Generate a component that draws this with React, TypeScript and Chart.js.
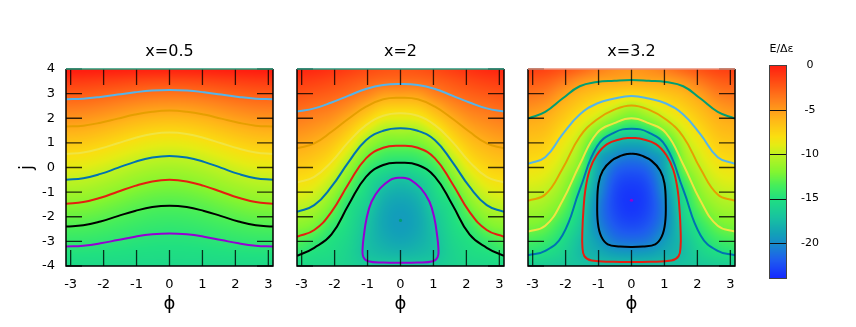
import React, { useEffect, useRef } from 'react';
import { Chart, registerables } from 'chart.js';

Chart.register(...registerables);

const FONT = "'DejaVu Sans', 'Liberation Sans', sans-serif";

// ---------- data ----------
const PHI_GRID = [-3.1416, -2.618, -2.0944, -1.5708, -1.0472, -0.5236, 0, 0.5236, 1.0472, 1.5708, 2.0944, 2.618, 3.1416];
const J_GRID = [4, 3.5, 3, 2.5, 2, 1.5, 1, 0.5, 0, -0.5, -1, -1.5, -2, -2.5, -3, -3.5, -4];
const PHI_TICKS = [-3, -2, -1, 0, 1, 2, 3];
const J_TICKS = [-4, -3, -2, -1, 0, 1, 2, 3, 4];
const CB_TICKS = [0, -5, -10, -15, -20];
const CB_MIN = -24;
const CB_MAX = 0;
const TITLES = ['x=0.5', 'x=2', 'x=3.2'];
const CB_LABEL = 'E/\u0394\u03b5';

// E/Δε on the (φ, j) grid, rows j = 4 … -4, columns φ = -π … π
const E_X05 = [
  [0.15, 0.13, 0.08, 0, -0.08, -0.13, -0.15, -0.13, -0.08, 0, 0.08, 0.13, 0.15],
  [-1.13, -1.18, -1.31, -1.48, -1.66, -1.78, -1.83, -1.78, -1.66, -1.48, -1.31, -1.18, -1.13],
  [-2.37, -2.44, -2.63, -2.89, -3.15, -3.34, -3.41, -3.34, -3.15, -2.89, -2.63, -2.44, -2.37],
  [-3.55, -3.64, -3.89, -4.23, -4.57, -4.82, -4.91, -4.82, -4.57, -4.23, -3.89, -3.64, -3.55],
  [-4.69, -4.8, -5.1, -5.5, -5.91, -6.2, -6.31, -6.2, -5.91, -5.5, -5.1, -4.8, -4.69],
  [-5.81, -5.93, -6.26, -6.71, -7.16, -7.49, -7.61, -7.49, -7.16, -6.71, -6.26, -5.93, -5.81],
  [-6.89, -7.02, -7.37, -7.85, -8.33, -8.68, -8.81, -8.68, -8.33, -7.85, -7.37, -7.02, -6.89],
  [-7.96, -8.09, -8.44, -8.92, -9.4, -9.75, -9.88, -9.75, -9.4, -8.92, -8.44, -8.09, -7.96],
  [-8.98, -9.11, -9.45, -9.92, -10.39, -10.73, -10.86, -10.73, -10.39, -9.92, -9.45, -9.11, -8.98],
  [-9.97, -10.09, -10.42, -10.86, -11.31, -11.63, -11.75, -11.63, -11.31, -10.86, -10.42, -10.09, -9.97],
  [-10.92, -11.03, -11.33, -11.73, -12.14, -12.43, -12.54, -12.43, -12.14, -11.73, -11.33, -11.03, -10.92],
  [-11.82, -11.92, -12.18, -12.53, -12.89, -13.14, -13.24, -13.14, -12.89, -12.53, -12.18, -11.92, -11.82],
  [-12.66, -12.74, -12.96, -13.26, -13.56, -13.78, -13.86, -13.78, -13.56, -13.26, -12.96, -12.74, -12.66],
  [-13.48, -13.54, -13.71, -13.93, -14.16, -14.32, -14.38, -14.32, -14.16, -13.93, -13.71, -13.54, -13.48],
  [-14.23, -14.27, -14.38, -14.53, -14.68, -14.79, -14.83, -14.79, -14.68, -14.53, -14.38, -14.27, -14.23],
  [-14.91, -14.93, -14.99, -15.06, -15.14, -15.19, -15.21, -15.19, -15.14, -15.06, -14.99, -14.93, -14.91],
  [-15.47, -15.48, -15.5, -15.52, -15.55, -15.56, -15.57, -15.56, -15.55, -15.52, -15.5, -15.48, -15.47],
];

const E_X2 = [
  [-0.3, -0.43, -0.78, -1.25, -1.73, -2.07, -2.2, -2.07, -1.73, -1.25, -0.78, -0.43, -0.3],
  [-1.16, -1.36, -1.71, -2.2, -2.7, -3.1, -3.15, -3.1, -2.7, -2.2, -1.71, -1.36, -1.16],
  [-2.02, -2.29, -2.63, -3.15, -3.96, -4.97, -5.08, -4.97, -3.96, -3.15, -2.63, -2.29, -2.02],
  [-2.89, -3.23, -3.59, -4.43, -5.7, -6.89, -7.1, -6.89, -5.7, -4.43, -3.59, -3.23, -2.89],
  [-3.73, -4.1, -4.64, -5.78, -7.3, -8.76, -9.01, -8.76, -7.3, -5.78, -4.64, -4.1, -3.73],
  [-4.57, -4.97, -5.69, -7.05, -9.07, -10.72, -10.83, -10.72, -9.07, -7.05, -5.69, -4.97, -4.57],
  [-5.4, -5.85, -6.69, -8.35, -10.93, -12.25, -12.47, -12.25, -10.93, -8.35, -6.69, -5.85, -5.4],
  [-6.25, -6.7, -7.67, -9.81, -12.42, -13.69, -13.94, -13.69, -12.42, -9.81, -7.67, -6.7, -6.25],
  [-7.11, -7.54, -8.75, -11.18, -13.79, -15.07, -15.48, -15.07, -13.79, -11.18, -8.75, -7.54, -7.11],
  [-7.98, -8.43, -9.93, -12.43, -14.95, -16.44, -17.11, -16.44, -14.95, -12.43, -9.93, -8.43, -7.98],
  [-8.95, -9.46, -11.07, -13.62, -15.56, -17.55, -18.18, -17.55, -15.56, -13.62, -11.07, -9.46, -8.95],
  [-9.95, -10.5, -12.15, -14.8, -16.17, -18.24, -18.87, -18.24, -16.17, -14.8, -12.15, -10.5, -9.95],
  [-10.99, -11.57, -13.23, -15.15, -16.78, -18.57, -19.18, -18.57, -16.78, -15.15, -13.23, -11.57, -10.99],
  [-12.07, -12.65, -14.32, -15.5, -17.05, -18.55, -19.11, -18.55, -17.05, -15.5, -14.32, -12.65, -12.07],
  [-13.21, -14.08, -15.0, -15.8, -17.2, -18.21, -18.65, -18.21, -17.2, -15.8, -15.0, -14.08, -13.21],
  [-14.49, -15.04, -15.35, -16.0, -17.05, -17.58, -17.8, -17.58, -17.05, -16.0, -15.35, -15.04, -14.49],
  [-15.5, -15.55, -15.7, -16.0, -16.5, -16.65, -16.6, -16.65, -16.5, -16.0, -15.7, -15.55, -15.5],
];

const E_X32 = [
  [-1.3, -1.5, -2.1, -2.9, -3.8, -4.5, -4.8, -4.5, -3.8, -2.9, -2.1, -1.5, -1.3],
  [-2.34, -2.65, -3.57, -4.7, -5.37, -5.54, -5.69, -5.54, -5.37, -4.7, -3.57, -2.65, -2.34],
  [-3.39, -3.8, -5.03, -6.1, -6.79, -7.3, -7.62, -7.3, -6.79, -6.1, -5.03, -3.8, -3.39],
  [-4.43, -4.95, -6.08, -7.18, -8.21, -9.35, -10.43, -9.35, -8.21, -7.18, -6.08, -4.95, -4.43],
  [-5.48, -5.85, -6.93, -8.27, -9.75, -11.51, -12.66, -11.51, -9.75, -8.27, -6.93, -5.85, -5.48],
  [-6.17, -6.53, -7.78, -9.4, -12.05, -14.52, -15.55, -14.52, -12.05, -9.4, -7.78, -6.53, -6.17],
  [-6.84, -7.21, -8.55, -10.5, -14.73, -17.8, -18.44, -17.8, -14.73, -10.5, -8.55, -7.21, -6.84],
  [-7.52, -7.89, -9.28, -11.5, -17.75, -19.8, -20.5, -19.8, -17.75, -11.5, -9.28, -7.89, -7.52],
  [-8.23, -8.64, -10.02, -12.5, -18.24, -21.21, -21.9, -21.21, -18.24, -12.5, -10.02, -8.64, -8.23],
  [-9.0, -9.39, -10.82, -13.92, -18.85, -22.09, -22.87, -22.09, -18.85, -13.92, -10.82, -9.39, -9.0],
  [-9.76, -10.15, -11.67, -15.14, -19.45, -22.58, -23.39, -22.58, -19.45, -15.14, -11.67, -10.15, -9.76],
  [-10.58, -11.02, -12.52, -15.68, -20.06, -22.69, -23.48, -22.69, -20.06, -15.68, -12.52, -11.02, -10.58],
  [-11.5, -11.93, -13.53, -16.21, -20.2, -22.42, -23.13, -22.42, -20.2, -16.21, -13.53, -11.93, -11.5],
  [-12.42, -12.91, -14.57, -16.75, -19.8, -21.76, -22.33, -21.76, -19.8, -16.75, -14.57, -12.91, -12.42],
  [-13.6, -14.08, -15.38, -17.29, -19.0, -20.72, -21.09, -20.72, -19.0, -17.29, -15.38, -14.08, -13.6],
  [-14.85, -15.25, -16.04, -17.4, -18.2, -18.97, -19.19, -18.97, -18.2, -17.4, -16.04, -15.25, -14.85],
  [-16.3, -16.4, -16.7, -17.0, -17.2, -17.3, -17.3, -17.3, -17.2, -17.0, -16.7, -16.4, -16.3],
];

// contour lines: j at the φ positions of PHI_GRID
const X05_SKY = [2.77, 2.795, 2.865, 2.96, 3.055, 3.125, 3.15, 3.125, 3.055, 2.96, 2.865, 2.795, 2.77];
const X05_ORANGE = [1.66, 1.7, 1.82, 1.985, 2.15, 2.265, 2.31, 2.265, 2.15, 1.985, 1.82, 1.7, 1.66];
const X05_YELLOW = [0.55, 0.61, 0.77, 0.985, 1.2, 1.36, 1.42, 1.36, 1.2, 0.985, 0.77, 0.61, 0.55];
const X05_BLUE = [-0.5, -0.435, -0.26, -0.015, 0.23, 0.405, 0.47, 0.405, 0.23, -0.015, -0.26, -0.435, -0.5];
const X05_RED = [-1.47, -1.405, -1.23, -0.985, -0.745, -0.565, -0.5, -0.565, -0.745, -0.985, -1.23, -1.405, -1.47];
const X05_BLACK = [-2.4, -2.345, -2.19, -1.975, -1.765, -1.605, -1.55, -1.605, -1.765, -1.975, -2.19, -2.345, -2.4];
const X05_VIOLET = [-3.21, -3.175, -3.08, -2.945, -2.81, -2.715, -2.68, -2.715, -2.81, -2.945, -3.08, -3.175, -3.21];

const X2_SKY = [2.27, 2.4, 2.64, 2.92, 3.19, 3.35, 3.39, 3.35, 3.19, 2.92, 2.64, 2.4, 2.27];
const X2_ORANGE = [0.78, 0.98, 1.45, 1.99, 2.47, 2.77, 2.83, 2.77, 2.47, 1.99, 1.45, 0.98, 0.78];
const X2_YELLOW = [-0.61, -0.38, 0.23, 1.05, 1.72, 2.1, 2.2, 2.1, 1.72, 1.05, 0.23, -0.38, -0.61];
const X2_BLUE = [-1.8, -1.53, -0.78, 0.23, 1.11, 1.49, 1.59, 1.49, 1.11, 0.23, -0.78, -1.53, -1.8];
const X2_RED = [-2.81, -2.54, -1.8, -0.65, 0.37, 0.8, 0.88, 0.8, 0.37, -0.65, -1.8, -2.54, -2.81];
const X2_BLACK = [-3.59, -3.26, -2.72, -1.5, -0.38, 0.1, 0.19, 0.1, -0.38, -1.5, -2.72, -3.26, -3.59];
const X2_VIOLET_PHI = [0, 0.14, 0.32, 0.62, 0.88, 1.03, 1.11, 1.15, 1.13, 0.98, 0.52, 0, -0.52, -0.98, -1.13, -1.15, -1.11, -1.03, -0.88, -0.62, -0.32, -0.14, 0];
const X2_VIOLET_J = [-0.42, -0.43, -0.51, -0.85, -1.39, -2.07, -2.75, -3.29, -3.63, -3.81, -3.86, -3.87, -3.86, -3.81, -3.63, -3.29, -2.75, -2.07, -1.39, -0.85, -0.51, -0.43, -0.42];
const X2_MIN_PHI = [0];
const X2_MIN_J = [-2.15];

const X32_GREEN = [1.99, 2.26, 2.8, 3.3, 3.47, 3.52, 3.55, 3.52, 3.47, 3.3, 2.8, 2.26, 1.99];
const X32_SKY = [0.15, 0.42, 1.35, 2.15, 2.6, 2.8, 2.9, 2.8, 2.6, 2.15, 1.35, 0.42, 0.15];
const X32_ORANGE = [-1.35, -1.1, -0.05, 1.25, 1.95, 2.35, 2.52, 2.35, 1.95, 1.25, -0.05, -1.1, -1.35];
const X32_YELLOW = [-2.6, -2.37, -1.35, 0.12, 1.4, 1.8, 2.0, 1.8, 1.4, 0.12, -1.35, -2.37, -2.6];
const X32_BLUE = [-3.56, -3.39, -2.75, -0.9, 0.85, 1.42, 1.57, 1.42, 0.85, -0.9, -2.75, -3.39, -3.56];
const X32_RED_PHI = [0, 0.12, 0.31, 0.74, 1.06, 1.27, 1.4, 1.46, 1.49, 1.49, 1.43, 1.21, 0.55, 0, -0.55, -1.21, -1.43, -1.49, -1.49, -1.46, -1.4, -1.27, -1.06, -0.74, -0.31, -0.12, 0];
const X32_RED_J = [1.2, 1.195, 1.16, 0.95, 0.5, -0.1, -0.9, -1.75, -2.55, -3.2, -3.6, -3.78, -3.83, -3.84, -3.83, -3.78, -3.6, -3.2, -2.55, -1.75, -0.9, -0.1, 0.5, 0.95, 1.16, 1.195, 1.2];
const X32_BLACK_PHI = [0, 0.12, 0.31, 0.61, 0.87, 1.0, 1.04, 1.02, 0.92, 0.72, 0.35, 0, -0.35, -0.72, -0.92, -1.02, -1.04, -1.0, -0.87, -0.61, -0.31, -0.12, 0];
const X32_BLACK_J = [0.56, 0.55, 0.48, 0.27, -0.12, -0.64, -1.45, -2.26, -2.8, -3.12, -3.21, -3.23, -3.21, -3.12, -2.8, -2.26, -1.45, -0.64, -0.12, 0.27, 0.48, 0.55, 0.56];
const X32_MIN_PHI = [0];
const X32_MIN_J = [-1.33];

// ---------- styles ----------
const LT = {
  violet: '#9400d3', green: '#009e73', sky: '#56b4e9', orange: '#e69f00',
  yellow: '#f0e442', blue: '#0072b2', red: '#e51e10', black: '#000000',
};
const PAL_V = [0, -2, -4, -6, -8, -9, -10, -12, -13.5, -15, -17, -19, -20.5, -22, -24];
const PAL_C = [
  [255, 30, 16], [255, 80, 20], [255, 130, 28], [255, 180, 24], [250, 222, 16], [228, 236, 20],
  [192, 242, 32], [130, 245, 48], [70, 238, 90], [32, 224, 128], [24, 196, 158], [18, 160, 184],
  [24, 130, 210], [30, 90, 240], [20, 40, 255],
];
const TICK_LEN = 16;

function palette(v: number): number[] {
  if (v >= PAL_V[0]) return PAL_C[0];
  for (let i = 1; i < PAL_V.length; i++) {
    if (v >= PAL_V[i]) {
      const t = (PAL_V[i - 1] - v) / (PAL_V[i - 1] - PAL_V[i]);
      const a = PAL_C[i - 1], b = PAL_C[i];
      return [a[0] + (b[0] - a[0]) * t, a[1] + (b[1] - a[1]) * t, a[2] + (b[2] - a[2]) * t];
    }
  }
  return PAL_C[PAL_C.length - 1];
}

function crW(t: number) {
  const t2 = t * t, t3 = t2 * t;
  return [(-t3 + 2 * t2 - t) / 2, (3 * t3 - 5 * t2 + 2) / 2, (-3 * t3 + 4 * t2 + t) / 2, (t3 - t2) / 2];
}

// smooth shading of the grid (rendering only)
function sampleGrid(g: number[][], u: number, v: number) {
  const rows = g.length, cols = g[0].length;
  u = Math.max(0, Math.min(cols - 1, u));
  v = Math.max(0, Math.min(rows - 1, v));
  const i = Math.min(Math.floor(u), cols - 2);
  const k = Math.min(Math.floor(v), rows - 2);
  const wu = crW(u - i), wv = crW(v - k);
  let s = 0;
  for (let m = 0; m < 4; m++) {
    const r = Math.max(0, Math.min(rows - 1, k - 1 + m));
    let rs = 0;
    for (let n = 0; n < 4; n++) {
      const c = Math.max(0, Math.min(cols - 1, i - 1 + n));
      rs += wu[n] * g[r][c];
    }
    s += wv[m] * rs;
  }
  return s;
}

type Curve = { phi: number[]; j: number[]; color: string; loop?: boolean };
type Dot = { phi: number[]; j: number[]; color: string };

const PANELS: { title: string; grid: number[][]; left: number; showY: boolean; topEdge: string; curves: Curve[]; dots: Dot[] }[] = [
  {
    title: TITLES[0], grid: E_X05, left: 0, showY: true, topEdge: '#2a9a78',
    curves: [
      { phi: PHI_GRID, j: X05_SKY, color: LT.sky },
      { phi: PHI_GRID, j: X05_ORANGE, color: LT.orange },
      { phi: PHI_GRID, j: X05_YELLOW, color: LT.yellow },
      { phi: PHI_GRID, j: X05_BLUE, color: LT.blue },
      { phi: PHI_GRID, j: X05_RED, color: LT.red },
      { phi: PHI_GRID, j: X05_BLACK, color: LT.black },
      { phi: PHI_GRID, j: X05_VIOLET, color: LT.violet },
    ],
    dots: [],
  },
  {
    title: TITLES[1], grid: E_X2, left: 231, showY: false, topEdge: '#2a9a80',
    curves: [
      { phi: PHI_GRID, j: X2_SKY, color: LT.sky },
      { phi: PHI_GRID, j: X2_ORANGE, color: LT.orange },
      { phi: PHI_GRID, j: X2_YELLOW, color: LT.yellow },
      { phi: PHI_GRID, j: X2_BLUE, color: LT.blue },
      { phi: PHI_GRID, j: X2_RED, color: LT.red },
      { phi: PHI_GRID, j: X2_BLACK, color: LT.black },
      { phi: X2_VIOLET_PHI, j: X2_VIOLET_J, color: LT.violet, loop: true },
    ],
    dots: [{ phi: X2_MIN_PHI, j: X2_MIN_J, color: LT.green }],
  },
  {
    title: TITLES[2], grid: E_X32, left: 462, showY: false, topEdge: '#e8907a',
    curves: [
      { phi: PHI_GRID, j: X32_GREEN, color: LT.green },
      { phi: PHI_GRID, j: X32_SKY, color: LT.sky },
      { phi: PHI_GRID, j: X32_ORANGE, color: LT.orange },
      { phi: PHI_GRID, j: X32_YELLOW, color: LT.yellow },
      { phi: PHI_GRID, j: X32_BLUE, color: LT.blue },
      { phi: X32_RED_PHI, j: X32_RED_J, color: LT.red, loop: true },
      { phi: X32_BLACK_PHI, j: X32_BLACK_J, color: LT.black, loop: true },
    ],
    dots: [{ phi: X32_MIN_PHI, j: X32_MIN_J, color: LT.violet }],
  },
];

const PANEL_W = 339;
const H = 327;

function makeHeatPlugin(grid: number[][]) {
  return {
    id: 'heat',
    beforeDatasetsDraw(chart: any) {
      const { ctx, chartArea: a, scales } = chart;
      const x = scales.x, y = scales.y;
      const w = Math.round(a.right - a.left), h = Math.round(a.bottom - a.top);
      const off = document.createElement('canvas');
      off.width = w; off.height = h;
      const octx = off.getContext('2d')!;
      const img = octx.createImageData(w, h);
      const du = PHI_GRID[1] - PHI_GRID[0];
      const dv = J_GRID[0] - J_GRID[1];
      for (let py = 0; py < h; py++) {
        const jv = y.getValueForPixel(a.top + py + 0.5);
        const v = (J_GRID[0] - jv) / dv;
        for (let px = 0; px < w; px++) {
          const ph = x.getValueForPixel(a.left + px + 0.5);
          const u = (ph - PHI_GRID[0]) / du;
          const c = palette(sampleGrid(grid, u, v));
          const k = (py * w + px) * 4;
          img.data[k] = c[0]; img.data[k + 1] = c[1]; img.data[k + 2] = c[2]; img.data[k + 3] = 255;
        }
      }
      octx.putImageData(img, 0, 0);
      ctx.drawImage(off, a.left, a.top);
    },
  };
}

function makeFramePlugin(topEdge: string) {
  return {
    id: 'frame',
    afterDatasetsDraw(chart: any) {
      const { ctx, chartArea: a, scales } = chart;
      const x = scales.x, y = scales.y;
      ctx.save();
      ctx.strokeStyle = 'rgba(0,0,0,0.78)';
      ctx.lineWidth = 1.3;
      ctx.beginPath();
      for (const t of PHI_TICKS) {
        const px = x.getPixelForValue(t);
        ctx.moveTo(px, a.bottom); ctx.lineTo(px, a.bottom - TICK_LEN);
        ctx.moveTo(px, a.top); ctx.lineTo(px, a.top + TICK_LEN);
      }
      for (const t of J_TICKS) {
        const py = y.getPixelForValue(t);
        ctx.moveTo(a.left, py); ctx.lineTo(a.left + TICK_LEN, py);
        ctx.moveTo(a.right, py); ctx.lineTo(a.right - TICK_LEN, py);
      }
      ctx.stroke();
      ctx.strokeStyle = '#000';
      ctx.lineWidth = 1.5;
      ctx.beginPath();
      ctx.moveTo(a.left, a.top); ctx.lineTo(a.left, a.bottom); ctx.lineTo(a.right, a.bottom); ctx.lineTo(a.right, a.top);
      ctx.stroke();
      ctx.strokeStyle = topEdge;
      ctx.beginPath();
      ctx.moveTo(a.left, a.top); ctx.lineTo(a.right, a.top);
      ctx.stroke();
      ctx.restore();
    },
  };
}

function PanelChart({ idx }: { idx: number }) {
  const ref = useRef<HTMLCanvasElement>(null);
  useEffect(() => {
    const p = PANELS[idx];
    const datasets: any[] = p.curves.map((c) => ({
      data: c.phi.map((ph, i) => ({ x: ph, y: c.j[i] })),
      showLine: true,
      borderColor: c.color,
      backgroundColor: c.color,
      borderWidth: 2,
      pointRadius: 0,
      tension: c.loop ? 0.4 : 0.45,
      fill: false,
    }));
    p.dots.forEach((d) => datasets.push({
      data: d.phi.map((ph, i) => ({ x: ph, y: d.j[i] })),
      showLine: false,
      pointRadius: 1.6,
      pointBorderWidth: 0,
      backgroundColor: d.color,
      borderColor: d.color,
    }));
    const tickFont = { family: FONT, size: 13 };
    const chart = new Chart(ref.current!, {
      type: 'scatter',
      data: { datasets },
      options: {
        animation: false,
        responsive: false,
        events: [],
        layout: { padding: 0 },
        plugins: {
          legend: { display: false },
          tooltip: { enabled: false },
          title: {
            display: true, text: p.title, color: '#000',
            font: { family: FONT, size: 16, weight: 'normal' },
            padding: { top: 42.3, bottom: 7.5 },
          },
        },
        scales: {
          x: {
            type: 'linear', min: -Math.PI, max: Math.PI,
            afterBuildTicks: (s: any) => { s.ticks = PHI_TICKS.map((v) => ({ value: v })); },
            grid: { display: false, drawTicks: false },
            border: { display: false },
            ticks: { font: tickFont, color: '#000', padding: 11, maxRotation: 0, autoSkip: false },
            title: { display: true, text: '\u03d5', color: '#000', font: { family: FONT, size: 18 }, padding: { top: 0, bottom: 12 } },
            afterFit: (s: any) => { s.height = 61; },
          },
          y: {
            type: 'linear', position: 'left', min: -4, max: 4,
            afterBuildTicks: (s: any) => { s.ticks = J_TICKS.map((v) => ({ value: v })); },
            grid: { display: false, drawTicks: false },
            border: { display: false },
            ticks: { display: p.showY, font: tickFont, color: '#000', padding: 11, autoSkip: false },
            title: { display: p.showY, text: 'j', color: '#000', font: { family: FONT, size: 18 }, padding: { top: 17, bottom: 0 } },
            afterFit: (s: any) => { s.width = 66; },
          },
          yr: {
            type: 'linear', position: 'right', min: -4, max: 4,
            grid: { display: false, drawTicks: false },
            border: { display: false },
            ticks: { display: false },
            afterFit: (s: any) => { s.width = 66; },
          },
        },
      } as any,
      plugins: [makeHeatPlugin(p.grid), makeFramePlugin(p.topEdge)],
    });
    return () => chart.destroy();
  }, [idx]);
  const left = PANELS[idx].left;
  return (
    <canvas
      ref={ref}
      width={PANEL_W}
      height={H}
      style={{ position: 'absolute', left, top: 0, width: PANEL_W, height: H }}
    />
  );
}

const colorbarPlugin = {
  id: 'colorbar',
  afterDraw(chart: any) {
    const { ctx, chartArea: a, scales } = chart;
    const y = scales.y;
    ctx.save();
    for (let py = Math.floor(a.top); py < Math.ceil(a.bottom); py++) {
      const c = palette(y.getValueForPixel(py + 0.5));
      ctx.fillStyle = `rgb(${Math.round(c[0])},${Math.round(c[1])},${Math.round(c[2])})`;
      ctx.fillRect(a.left, py, a.right - a.left, 1);
    }
    ctx.strokeStyle = '#111';
    ctx.lineWidth = 1;
    ctx.beginPath();
    for (const t of CB_TICKS) {
      if (t === CB_MAX) continue;
      const py = Math.round(y.getPixelForValue(t)) + 0.5;
      ctx.moveTo(a.left, py); ctx.lineTo(a.right, py);
    }
    ctx.stroke();
    ctx.strokeStyle = '#444';
    ctx.strokeRect(a.left + 0.5, a.top, a.right - a.left - 1, a.bottom - a.top);
    ctx.fillStyle = '#000';
    ctx.font = `11px ${FONT}`;
    ctx.textAlign = 'center';
    ctx.textBaseline = 'middle';
    ctx.fillText(CB_LABEL, (a.left + a.right) / 2 + 3.5, 49.5);
    ctx.restore();
  },
};

function ColorbarChart() {
  const ref = useRef<HTMLCanvasElement>(null);
  useEffect(() => {
    const chart = new Chart(ref.current!, {
      type: 'scatter',
      data: { datasets: [] },
      options: {
        animation: false,
        responsive: false,
        events: [],
        layout: { padding: { top: 65.5, bottom: 48.5, left: 0, right: 0 } },
        plugins: { legend: { display: false }, tooltip: { enabled: false }, title: { display: false } },
        scales: {
          x: { display: false, min: 0, max: 1 },
          yl: {
            type: 'linear', position: 'left', min: CB_MIN, max: CB_MAX,
            grid: { display: false, drawTicks: false }, border: { display: false },
            ticks: { display: false },
            afterFit: (s: any) => { s.width = 69; },
          },
          y: {
            type: 'linear', position: 'right', min: CB_MIN, max: CB_MAX,
            afterBuildTicks: (s: any) => { s.ticks = CB_TICKS.map((v) => ({ value: v })); },
            grid: { display: false, drawTicks: false }, border: { display: false },
            ticks: { font: { family: FONT, size: 11 }, color: '#000', crossAlign: 'center', padding: 14 },
            afterFit: (s: any) => { s.width = 69; },
          },
        },
      } as any,
      plugins: [colorbarPlugin],
    });
    return () => chart.destroy();
  }, []);
  return (
    <canvas
      ref={ref}
      width={156}
      height={H}
      style={{ position: 'absolute', left: 700, top: 0, width: 156, height: H }}
    />
  );
}

export default function App() {
  return (
    <div style={{ position: 'fixed', left: 0, top: 0, width: 856, height: H, background: '#fff', overflow: 'hidden' }}>
      <PanelChart idx={0} />
      <PanelChart idx={1} />
      <PanelChart idx={2} />
      <ColorbarChart />
    </div>
  );
}
